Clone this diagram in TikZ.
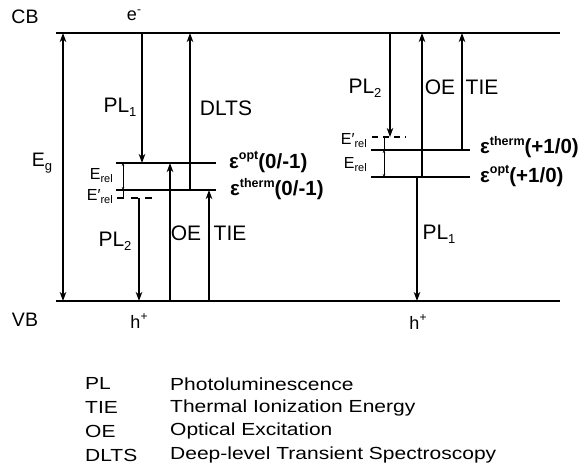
\documentclass[tikz,border=0pt]{standalone}
\usepackage{fontspec}
\setmainfont{Liberation Sans}
\newfontfamily\legendfont[FakeStretch=1.2]{Liberation Sans}
\usetikzlibrary{arrows.meta}
\newcommand\lsub[2][13]{\raisebox{-0.35ex}{\fontsize{#1}{#1}\selectfont #2}}
\newcommand\lsup[2][13]{\raisebox{0.75ex}{\fontsize{#1}{#1}\selectfont #2}}

\begin{document}
\begin{tikzpicture}[x=1pt,y=-1pt,
    band/.style={line width=1.6pt},
    trans/.style={line width=1.1pt,-{Stealth[length=9pt,width=6.5pt,inset=2.5pt]}},
    gap/.style={line width=0.8pt,{Stealth[length=3pt,width=2.5pt]}-{Stealth[length=3pt,width=2.5pt]}},
    relax/.style={line width=1.2pt,dash pattern=on 7pt off 7pt},
    bandlbl/.style={font=\fontsize{19.5}{21}\selectfont},
    carrier/.style={font=\fontsize{18}{20}\selectfont},
    translbl/.style={font=\fontsize{21}{23}\selectfont},
    rellbl/.style={font=\fontsize{16}{18}\selectfont,anchor=east,inner sep=1pt},
    levellbl/.style={font=\bfseries\fontsize{20.5}{23}\selectfont,anchor=west,inner sep=0pt}]
    \useasboundingbox (0,0) rectangle (585,473);
    % bands
    \coordinate (CB) at (56,33); \coordinate (CBend) at (560,33);
    \coordinate (VB) at (56,301); \coordinate (VBend) at (560,301);
    \draw[band] (CB) -- (CBend);
    \draw[band] (VB) -- (VBend);
    % acceptor levels (0/-1)
    \coordinate (optL) at (116,163); \coordinate (optLend) at (216,163);
    \coordinate (thermL) at (116,190); \coordinate (thermLend) at (216,190);
    \coordinate (relL) at (117,198); \coordinate (relLend) at (152,198);
    \draw[band] (optL) -- (optLend);
    \draw[band] (thermL) -- (thermLend);
    \draw[relax] (relL) -- (relLend);
    % donor levels (+1/0)
    \coordinate (thermR) at (371,150); \coordinate (thermRend) at (470,150);
    \coordinate (optR) at (371,177); \coordinate (optRend) at (470,177);
    \coordinate (relR) at (372,137); \coordinate (relRend) at (406,137);
    \draw[band] (thermR) -- (thermRend);
    \draw[band] (optR) -- (optRend);
    \draw[relax,dash pattern=on 6pt off 5pt] (relR) -- (relRend);
    % transitions
    \draw[trans,{Stealth[length=9pt,width=6.5pt,inset=2.5pt]}-{Stealth[length=9pt,width=6.5pt,inset=2.5pt]}] (63,0 |- VB) -- (63,0 |- CB);
    \draw[trans] (142,0 |- CB) -- (142,0 |- optL);
    \draw[trans] (190,0 |- thermL) -- (190,0 |- CB);
    \draw[trans] (170,0 |- VB) -- (170,0 |- optL);
    \draw[trans] (209,0 |- VB) -- (209,0 |- thermL);
    \draw[trans] (139,0 |- relL) -- (139,0 |- VB);
    \draw[gap] (123,0 |- optL) -- (123,0 |- thermL);
    \draw[line width=0.8pt] (123,0 |- thermL) -- (123,0 |- relL);
    \draw[trans] (390,0 |- CB) -- (390,0 |- relR);
    \draw[trans] (422,0 |- optR) -- (422,0 |- CB);
    \draw[trans] (462,0 |- thermR) -- (462,0 |- CB);
    \draw[trans] (417,0 |- optR) -- (417,0 |- VB);
    \draw[gap] (384,0 |- thermR) -- (384,0 |- optR);
    \draw[line width=0.8pt] (384,0 |- relR) -- (384,0 |- thermR);
    % labels
    \node[bandlbl] (cbLbl) at (25,17) {CB};
    \node[bandlbl] (vbLbl) at (25,320) {VB};
    \node[carrier] (eLbl) at (134,15) {e\lsup[12]{-}};
    \node[carrier] (hL) at (139,321) {h\lsup[12]{+}};
    \node[carrier] (hR) at (418,322) {h\lsup[12]{+}};
    \node[bandlbl] (egLbl) at (42,163) {E\lsub{g}};
    \node[translbl] (pl1L) at (120,107) {PL\lsub{1}};
    \node[translbl] (dltsL) at (226,108) {DLTS};
    \node[translbl] (pl2L) at (115,241) {PL\lsub{2}};
    \node[translbl] (oeL) at (186,233) {OE};
    \node[translbl] (tieL) at (230,233) {TIE};
    \node[translbl] (pl2R) at (365,88) {PL\lsub{2}};
    \node[translbl] (oeR) at (440,87) {OE};
    \node[translbl] (tieR) at (482,87) {TIE};
    \node[translbl] (pl1R) at (439,234) {PL\lsub{1}};
    \node[rellbl] (erelL) at (114,176) {E\lsub[11]{rel}};
    \node[rellbl] (erelpL) at (114,197) {E′\lsub[11]{rel}};
    \node[rellbl] (erelpR) at (368,141) {E′\lsub[11]{rel}};
    \node[rellbl] (erelR) at (368,165) {E\lsub[11]{rel}};
    \node[levellbl] (optLLbl) at (229,162) {ε\lsup[12.5]{opt}(0/-1)};
    \node[levellbl] (thermLLbl) at (230,189) {ε\lsup[12.5]{therm}(0/-1)};
    \node[levellbl] (thermRLbl) at (480,147) {ε\lsup[12.5]{therm}(+1/0)};
    \node[levellbl] (optRLbl) at (480,176) {ε\lsup[12.5]{opt}(+1/0)};
    % legend
    \foreach \abbr/\full [count=\i] in {PL/Photoluminescence, TIE/Thermal Ionization Energy, OE/Optical Excitation, DLTS/Deep-level Transient Spectroscopy} {
        \node[anchor=west,inner sep=0pt,font=\legendfont\fontsize{17.5}{19}\selectfont] (abbr\i) at (85,{360+23.8*\i}) {\abbr};
        \node[anchor=west,inner sep=0pt,font=\legendfont\fontsize{17.5}{19}\selectfont] (full\i) at (170,{360+23.8*\i}) {\full};
    }
\end{tikzpicture}
\end{document}
